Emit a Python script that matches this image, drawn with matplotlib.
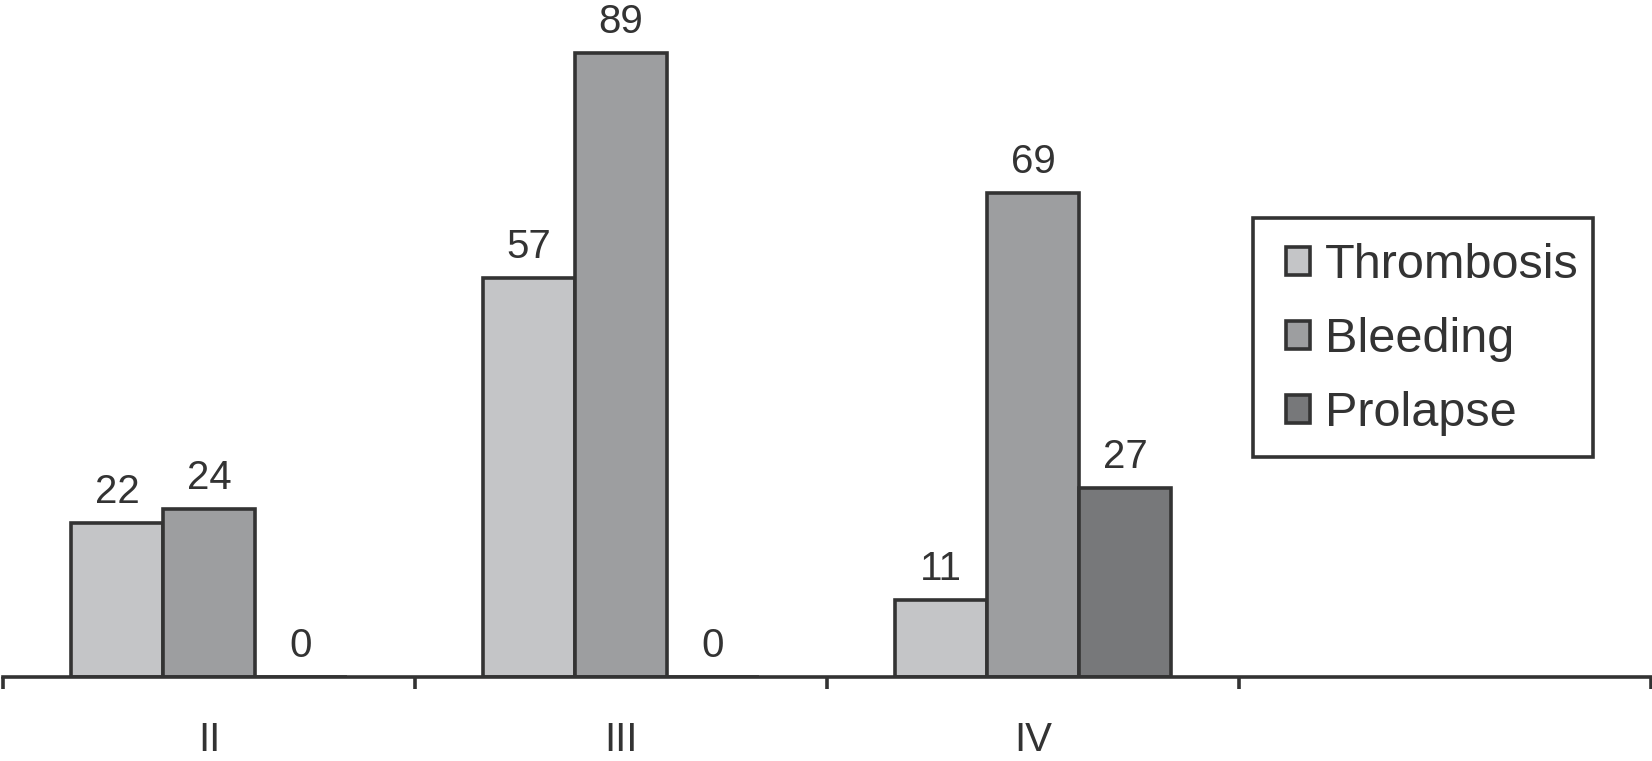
import numpy as np
import matplotlib.pyplot as plt
from matplotlib.patches import Patch, Rectangle

plt.rcParams['font.family'] = ['Liberation Sans', 'DejaVu Sans']

# data
grades = ["II", "III", "IV", ""]
thrombosis = [22, 57, 11]
bleeding = [24, 89, 69]
prolapse = [0, 0, 27]
series = ["Thrombosis", "Bleeding", "Prolapse"]
colors = ["#c4c5c7", "#9d9ea0", "#77787a"]

EDGE = "#333333"
TEXT = "#333333"
LW = 2.6
W, H = 1652, 761

fig = plt.figure(figsize=(W / 100, H / 100), dpi=100)
ax = fig.add_axes([3 / W, 84 / H, 1648 / W, 677 / H])

x = np.arange(len(thrombosis))
w = 0.223
for i, (vals, c) in enumerate(zip([thrombosis, bleeding, prolapse], colors)):
    pos = x + (i - 1) * w
    ax.bar(pos, vals, w, color=c, edgecolor=EDGE, linewidth=LW,
           label=series[i], zorder=2)
    for p, v in zip(pos, vals):
        ax.annotate(str(v), (p, v), xytext=(0, 14.4), textcoords="offset points",
                    ha="center", va="baseline", fontsize=29, color=TEXT)

ax.set_xlim(-0.5, 3.5)
ax.set_ylim(0, 96.6)

for s in ["top", "left", "right"]:
    ax.spines[s].set_visible(False)
ax.spines["bottom"].set_color(EDGE)
ax.spines["bottom"].set_linewidth(LW)
ax.spines["bottom"].set_zorder(3)
ax.set_yticks([])

ax.set_xticks(np.arange(-0.5, 4, 1))
ax.set_xticklabels([])
ax.tick_params(axis="x", which="major", direction="out", length=8.5,
               width=LW, color=EDGE)
ax.set_xticks(np.arange(len(grades)), minor=True)
ax.set_xticklabels(grades, minor=True, fontsize=29, color=TEXT)
ax.tick_params(axis="x", which="minor", length=0, pad=31.5)

# legend box drawn separately so the padding can differ per side
fig.patches.append(Rectangle((1253 / W, 1 - 457 / H), 340 / W, 239 / H,
                             transform=fig.transFigure, facecolor="white",
                             edgecolor=EDGE, linewidth=LW, zorder=5))
handles = [Patch(facecolor=c, edgecolor=EDGE, linewidth=LW) for c in colors]
leg = fig.legend(handles, series, loc="upper left",
                 bbox_to_anchor=(1286 / W, 1 - 243 / H),
                 fontsize=35, frameon=False,
                 handlelength=0.5, handleheight=0.5, handletextpad=0.3,
                 labelspacing=0.6, borderpad=0, borderaxespad=0)
leg.set_zorder(6)
for t in leg.get_texts():
    t.set_color(TEXT)

fig.savefig("out.png", dpi=100)
